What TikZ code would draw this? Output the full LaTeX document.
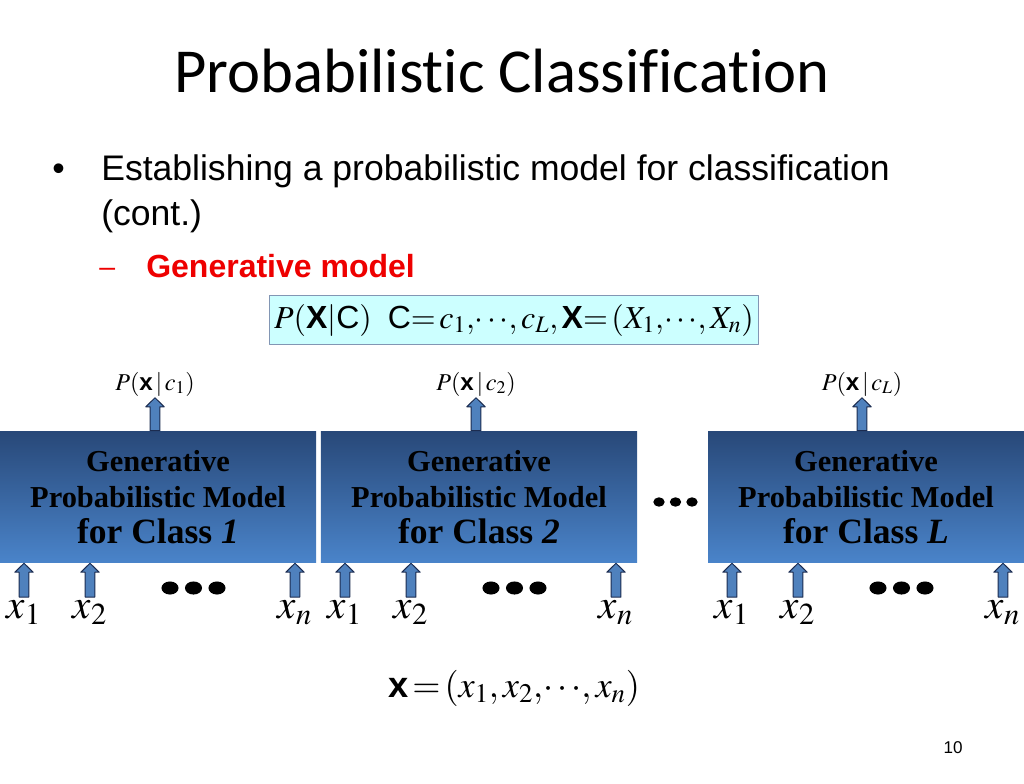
\documentclass[tikz,border=0pt]{standalone}
\usepackage{mathptmx}
\usepackage{fontspec}
\setmainfont{Liberation Serif}
\setsansfont{Liberation Sans}
\newfontfamily\titlefont[Ligatures=NoCommon]{Carlito}
\usetikzlibrary{calc}
\definecolor{boxtop}{RGB}{40,72,120}
\definecolor{boxbot}{RGB}{74,132,202}
\definecolor{arrfill}{RGB}{79,129,189}
\definecolor{arrline}{RGB}{28,44,80}
\definecolor{formfill}{RGB}{204,255,255}
\definecolor{formline}{RGB}{130,150,180}
\definecolor{subred}{RGB}{238,0,0}
\newcommand{\bx}{\textsf{\bfseries x}}
\newcommand{\bX}{\textsf{\bfseries X}}
\tikzset{
  modelbox/.style={minimum width=222.2pt,minimum height=92.8pt,inner sep=0pt,
    top color=boxtop,bottom color=boxbot,align=center,
    font=\bfseries\fontsize{21.4}{25.3}\selectfont},
  plabel/.style={inner sep=1pt,font=\fontsize{17}{20}\selectfont},
  xlabel/.style={inner sep=0pt,anchor=north,font=\fontsize{29}{32}\selectfont},
  blockarr/.style={draw=arrline,fill=arrfill,line width=0.7pt,
    to path={let \p1=(\tikztostart),\p2=(\tikztotarget) in
      (\x1-3.4pt,\y1) -- (\x1-3.4pt,\y2-6.3pt) -- (\x1-6.5pt,\y2-6.3pt) -- (\x1,\y2)
      -- (\x1+6.5pt,\y2-6.3pt) -- (\x1+3.4pt,\y2-6.3pt) -- (\x1+3.4pt,\y1) -- cycle}}
}
\begin{document}
\begin{tikzpicture}[x=0.703125pt,y=-0.703125pt,line join=round]
  \useasboundingbox (0,0) rectangle (1024,784);
  \node[anchor=base,font=\titlefont\fontsize{44}{48}\selectfont] (title) at (502,93) {Probabilistic Classification};
  \node[anchor=base west,inner sep=0pt,font=\sffamily\fontsize{25}{28}\selectfont] (bul) at (52,180) {•};
  \node[anchor=base west,inner sep=0pt,font=\sffamily\fontsize{25}{28}\selectfont] (line1) at (101,180) {Establishing a probabilistic model for classification};
  \node[anchor=base west,inner sep=0pt,font=\sffamily\fontsize{25}{28}\selectfont] (line2) at (101,225) {(cont.)};
  \node[anchor=base west,inner sep=0pt,text=subred,font=\sffamily\fontsize{20}{24}\selectfont] (dash) at (99,276) {–};
  \node[anchor=base west,inner sep=0pt,text=subred,font=\sffamily\bfseries\fontsize{22.5}{26}\selectfont] (sub) at (146,277) {Generative model};
  \node[draw=formline,fill=formfill,line width=0.8pt,minimum width=334.7pt,minimum height=34.5pt,
    font=\fontsize{22.5}{26}\selectfont] (form) at (514,320)
    {$P(\bX|\textsf{C})\ \ \textsf{C}{=}\,c_1,\!\cdots\!,c_L,\bX{=}\,(X_1,\!\cdots\!,X_n)$};
  % models
  \node[modelbox] (box1) at (158,497) {Generative\\Probabilistic Model\\{\fontsize{25}{28.1}\selectfont for Class \textit{1}}};
  \node[modelbox] (box2) at (479,497) {Generative\\Probabilistic Model\\{\fontsize{25}{28.1}\selectfont for Class \textit{2}}};
  \node[modelbox] (box3) at (866,497) {Generative\\Probabilistic Model\\{\fontsize{25}{28.1}\selectfont for Class \textit{L}}};
  \node[plabel] (p1) at (155,384) {$P(\bx\,|\,c_1)$};
  \node[plabel] (p2) at (476,384) {$P(\bx\,|\,c_2)$};
  \node[plabel] (pL) at (862,384) {$P(\bx\,|\,c_L)$};
  \foreach \b/\q in {box1/p1,box2/p2,box3/pL}
    \path[blockarr] (\b.north -| \q) to (\q.south);
  \foreach \b/\o in {box1/0,box2/321,box3/708} {
    \node[xlabel] (\b-x1) at (\o+24,600) {$x_1$};
    \node[xlabel] (\b-x2) at (\o+90,600) {$x_2$};
    \node[xlabel] (\b-xn) at (\o+295,600) {$x_n$};
    \foreach \k in {x1,x2,xn}
      \path[blockarr] ([yshift=2pt]\b-\k.north) to (\b-\k.north |- \b.south);
    \foreach \d in {0,23.5,47}
      \fill (\o+170+\d,588) ellipse [x radius=6pt,y radius=4.6pt];
  }
  \foreach \d in {659,675.5,692}
    \fill (\d,502) ellipse [x radius=4pt,y radius=3.3pt];
  \node[font=\fontsize{25.5}{28}\selectfont] (vec) at (514,688) {$\bx\,{=}\,(x_1,x_2,\!\cdots\!,x_n)$};
  \node[font=\sffamily\fontsize{12}{14}\selectfont] (page) at (953,748) {10};
\end{tikzpicture}
\end{document}
